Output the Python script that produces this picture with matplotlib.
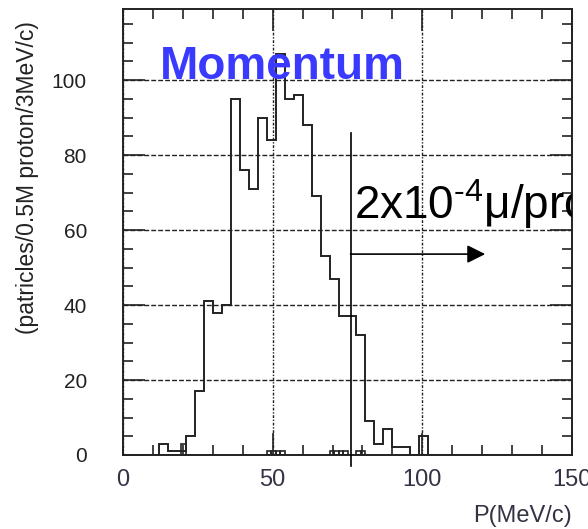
import numpy as np
import matplotlib
matplotlib.use("Agg")
import matplotlib.pyplot as plt
from matplotlib.ticker import MultipleLocator

# momentum histogram, 3 MeV/c bins
bin_edges = np.arange(0, 153, 3)
counts = [0, 0, 0, 0, 3, 1, 1, 5, 17, 41,
          38, 40, 95, 76, 71, 90, 84, 107, 95, 96,
          88, 69, 53, 47, 37, 37, 32, 9, 3, 7,
          2, 2, 0, 5, 0, 0, 0, 0, 0, 0,
          0, 0, 0, 0, 0, 0, 0, 0, 0, 0]

# small second histogram near zero (1.5 MeV/c bins)
low_left = [19.5, 48, 49.5, 51, 52.5, 69, 70.5, 72, 73.5, 78, 79.5]
low_counts = [3, 1, 1, 1, 1, 1, 1, 1, 1, 1, 1]
low_width = 1.5

cut_p = 76
arrow_end = 121
arrow_y = 53.6

plt.rcParams['font.family'] = ['Liberation Sans', 'DejaVu Sans']
plt.rcParams['mathtext.fontset'] = 'custom'
plt.rcParams['mathtext.rm'] = 'Liberation Sans'
plt.rcParams['mathtext.it'] = 'Liberation Sans:italic'
plt.rcParams['mathtext.bf'] = 'Liberation Sans:bold'

fig = plt.figure(figsize=(5.88, 5.29), dpi=100)
ax = fig.add_axes([0.2092, 0.1399, 0.9728 - 0.2092, 0.983 - 0.1399])

ax.stairs(counts, bin_edges, color='#222222', lw=1.4, zorder=3)
ax.bar(low_left, low_counts, width=low_width, align='edge', fill=False,
       edgecolor='#222222', lw=1.2, zorder=3)

ax.set_xlim(0, 150)
ax.set_ylim(0, 119)

ax.xaxis.set_major_locator(MultipleLocator(50))
ax.xaxis.set_minor_locator(MultipleLocator(10))
ax.yaxis.set_major_locator(MultipleLocator(20))
ax.yaxis.set_minor_locator(MultipleLocator(5))

ax.tick_params(which='both', direction='in', top=True, right=True, width=1.2, color='#222222')
ax.tick_params(which='major', length=16)
ax.tick_params(which='minor', length=7.5)
ax.tick_params(axis='x', which='major', pad=10, labelsize=17, labelcolor='#333344')
ax.tick_params(axis='y', which='major', pad=26, labelsize=15, labelcolor='#222222')

for s in ax.spines.values():
    s.set_linewidth(1.4)
    s.set_color('#222222')

ax.grid(axis='y', which='major', color='#222222', lw=1.0, ls=(0, (3.5, 1.5)))
ax.grid(axis='x', which='major', color='#222222', lw=1.0, ls=(0, (2, 1.2, 1, 1.2)))

# cut line and arrow
ax.plot([cut_p, cut_p], [-3, 86], color='black', lw=1.2, clip_on=False, zorder=4)
ax.annotate('', xy=(arrow_end, arrow_y), xytext=(cut_p, arrow_y),
            arrowprops=dict(arrowstyle='-|>,head_length=1,head_width=0.5',
                            mutation_scale=11, color='black', lw=1.2,
                            shrinkA=0, shrinkB=0), zorder=4)

ax.text(77.2, 63, r'2x10$^{\text{-}4}$μ/proton', fontsize=33,
        va='baseline', ha='left', color='black', clip_on=True, zorder=5)
ax.text(12.4, 100.3, 'Momentum', fontsize=33, fontweight='bold',
        color='#3a3aff', va='baseline', ha='left', zorder=5)

ax.set_xlabel('P(MeV/c)', fontsize=17, color='#333344', loc='right', labelpad=10)
fig.text(0.0476, 0.665, '(patricles/0.5M proton/3MeV/c)', rotation=90,
         fontsize=16.5, color='#222222', ha='center', va='center')

fig.savefig('out.png', dpi=100)
